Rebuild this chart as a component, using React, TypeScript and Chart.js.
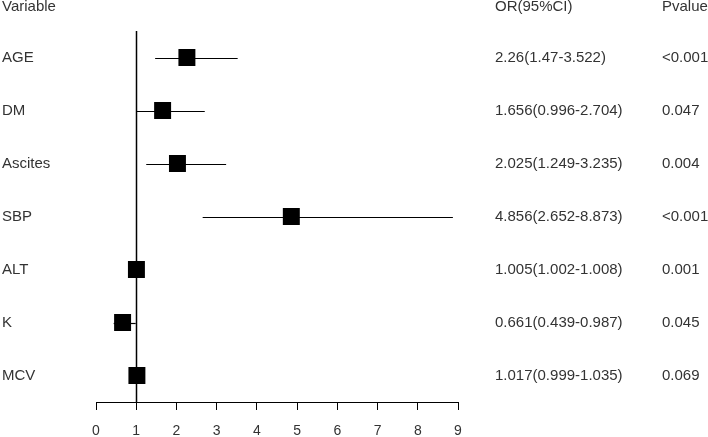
import React, { useEffect, useRef } from "react";
import { Chart, registerables } from "chart.js";

Chart.register(...registerables);

const variables = ["AGE", "DM", "Ascites", "SBP", "ALT", "K", "MCV"];
const orValues = [2.26, 1.656, 2.025, 4.856, 1.005, 0.661, 1.017];
const ciLower = [1.47, 0.996, 1.249, 2.652, 1.002, 0.439, 0.999];
const ciUpper = [3.522, 2.704, 3.235, 8.873, 1.008, 0.987, 1.035];
const orLabels = [
  "2.26(1.47-3.522)",
  "1.656(0.996-2.704)",
  "2.025(1.249-3.235)",
  "4.856(2.652-8.873)",
  "1.005(1.002-1.008)",
  "0.661(0.439-0.987)",
  "1.017(0.999-1.035)",
];
const pValues = ["<0.001", "0.047", "0.004", "<0.001", "0.001", "0.045", "0.069"];
const headers = ["Variable", "OR(95%CI)", "Pvalue"];
const xTicks = [0, 1, 2, 3, 4, 5, 6, 7, 8, 9];
const refValue = 1;

const FONT = '"Liberation Sans", Arial, sans-serif';
const TEXT_COLOR = "#333333";

const forestPlugin = {
  id: "forest",
  beforeDatasetsDraw(chart: any) {
    const { ctx, chartArea, scales } = chart;
    const x = scales.x;
    const y = scales.y;
    ctx.save();
    // reference line
    const rx = Math.round(x.getPixelForValue(refValue)) + 0.5;
    ctx.strokeStyle = "#000";
    ctx.lineWidth = 1.5;
    ctx.beginPath();
    ctx.moveTo(rx, chartArea.top);
    ctx.lineTo(rx, chartArea.bottom);
    ctx.stroke();
    // CI whiskers
    ctx.lineWidth = 1.2;
    for (let i = 0; i < variables.length; i++) {
      const py = Math.round(y.getPixelForValue(i + 1)) + 0.5;
      ctx.beginPath();
      ctx.moveTo(x.getPixelForValue(ciLower[i]), py);
      ctx.lineTo(x.getPixelForValue(ciUpper[i]), py);
      ctx.stroke();
    }
    ctx.restore();
  },
  afterDraw(chart: any) {
    const { ctx, chartArea, scales } = chart;
    const y = scales.y;
    ctx.save();
    ctx.fillStyle = TEXT_COLOR;
    ctx.font = `15px ${FONT}`;
    ctx.textBaseline = "middle";
    ctx.textAlign = "left";
    const colX = [2, 495, 662];
    const headY = chartArea.top - 24;
    headers.forEach((h, j) => ctx.fillText(h, colX[j], headY));
    for (let i = 0; i < variables.length; i++) {
      const py = y.getPixelForValue(i + 1);
      ctx.fillText(variables[i], colX[0], py);
      ctx.fillText(orLabels[i], colX[1], py);
      ctx.fillText(pValues[i], colX[2], py);
    }
    ctx.restore();
  },
};

export default function App() {
  const ref = useRef<HTMLCanvasElement>(null);
  useEffect(() => {
    if (!ref.current) return;
    const chart = new Chart(ref.current, {
      type: "scatter",
      data: {
        datasets: [
          {
            data: orValues.map((v, i) => ({ x: v, y: i + 1 })),
            pointStyle: "rect",
            pointRadius: 12,
            pointHoverRadius: 12,
            backgroundColor: "#000",
            borderColor: "#000",
            borderWidth: 0,
          },
        ],
      },
      options: {
        animation: false,
        responsive: false,
        events: [],
        layout: { padding: { left: 96, right: 250, top: 31, bottom: 0 } },
        plugins: { legend: { display: false }, tooltip: { enabled: false } },
        scales: {
          x: {
            type: "linear",
            min: 0,
            max: 9,
            afterBuildTicks: (s: any) => {
              s.ticks = xTicks.map((v) => ({ value: v }));
            },
            afterFit: (s: any) => {
              s.height = 35;
            },
            grid: {
              drawOnChartArea: false,
              drawTicks: true,
              tickLength: 8,
              color: "#000",
              lineWidth: 1,
            },
            border: { display: true, color: "#000", width: 1 },
            ticks: {
              color: TEXT_COLOR,
              font: { family: FONT, size: 14 },
              padding: 13,
              maxRotation: 0,
              autoSkip: false,
            },
          },
          y: {
            type: "linear",
            min: 0.5,
            max: 7.5,
            reverse: true,
            display: false,
          },
        },
      },
      plugins: [forestPlugin],
    });
    return () => chart.destroy();
  }, []);
  return (
    <div style={{ position: "absolute", left: 0, top: 0, width: 708, height: 437, background: "#fff" }}>
      <canvas ref={ref} width={708} height={437} style={{ width: 708, height: 437, display: "block" }} />
    </div>
  );
}
